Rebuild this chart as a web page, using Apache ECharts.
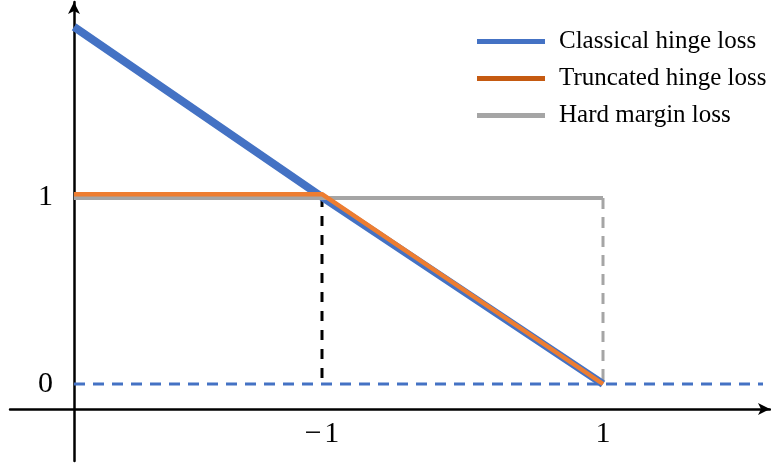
<!DOCTYPE html>
<html>
<head>
<meta charset="utf-8">
<script src="https://cdn.jsdelivr.net/npm/echarts@6/dist/echarts.min.js"></script>
<style>html,body{margin:0;padding:0;background:#fff}#c{width:771px;height:464px}</style>
</head>
<body>
<div id="c"></div>
<script>
// Tick labels
const xTickLabels = [-1, 1];
const yTickLabels = [0, 1];
// Series (x, loss) points
const seriesNames = ['Classical hinge loss', 'Truncated hinge loss', 'Hard margin loss'];
const classicalHinge = [[-2.765, 1.91], [-1, 1], [1, 0]];
const truncatedHinge = [[-2.765, 1.015], [-1, 1.015], [1, 0]];
const hardMargin = [[-2.765, 0.995], [1, 0.995]];
const hardMarginDrop = [[1, 0.995], [1, 0]];
const hingeDrop = [[-1, 1], [-1, 0]];
const zeroLevel = [[-2.765, 0], [2.139, 0]];

const font = 'Liberation Serif';
const chart = echarts.init(document.getElementById('c'), null, {renderer: 'canvas'});
chart.setOption({
  animation: false,
  backgroundColor: '#ffffff',
  grid: {left: 10, top: 2, width: 760, height: 459, containLabel: false},
  xAxis: {
    type: 'value', min: -3.2206, max: 2.1886,
    position: 'bottom', offset: -52,
    axisLine: {show: true, onZero: false, lineStyle: {color: '#000', width: 2.5}, symbol: ['none', 'arrow'], symbolSize: [9, 12]},
    axisTick: {show: false},
    splitLine: {show: false},
    axisLabel: {
      customValues: xTickLabels, margin: 10,
      fontFamily: font, fontSize: 30, color: '#000',
      formatter: v => (v < 0 ? '\u2212\u200A' + Math.abs(v) : String(v))
    }
  },
  yAxis: {
    type: 'value', min: -0.4118, max: 2.0428,
    position: 'left', offset: -64,
    axisLine: {show: true, onZero: false, lineStyle: {color: '#000', width: 2.5}, symbol: ['none', 'arrow'], symbolSize: [9, 12]},
    axisTick: {show: false},
    splitLine: {show: false},
    axisLabel: {
      customValues: yTickLabels, margin: 21,
      fontFamily: font, fontSize: 30, color: '#000'
    }
  },
  legend: {
    orient: 'vertical', left: 472, top: 24,
    icon: 'rect', itemWidth: 68, itemHeight: 5, itemGap: 12,
    textStyle: {fontFamily: font, fontSize: 25, color: '#000', lineHeight: 25, padding: [0, 0, 0, 9]},
    data: [
      {name: seriesNames[0], itemStyle: {color: '#4472C4'}},
      {name: seriesNames[1], itemStyle: {color: '#C55A11'}},
      {name: seriesNames[2], itemStyle: {color: '#A5A5A5'}}
    ]
  },
  series: [
    {type: 'line', name: 'zero', data: zeroLevel, symbol: 'none', silent: true,
     lineStyle: {color: '#4472C4', width: 3, type: [11, 8]}, z: 1},
    {type: 'line', name: 'drop1', data: hingeDrop, symbol: 'none', silent: true,
     lineStyle: {color: '#000', width: 3, type: [10, 9]}, z: 1},
    {type: 'line', name: 'drop2', data: hardMarginDrop, symbol: 'none', silent: true,
     lineStyle: {color: '#A5A5A5', width: 3, type: [11, 8]}, z: 1},
    {type: 'line', name: seriesNames[0], data: classicalHinge, symbol: 'none',
     color: '#4472C4', lineStyle: {color: '#4472C4', width: 8}, z: 2},
    {type: 'line', name: seriesNames[2], data: hardMargin, symbol: 'none',
     color: '#A5A5A5', lineStyle: {color: '#A5A5A5', width: 4}, z: 3},
    {type: 'line', name: seriesNames[1], data: truncatedHinge, symbol: 'none',
     color: '#ED7D31', lineStyle: {color: '#ED7D31', width: 4.5}, z: 4}
  ]
});
</script>
</body>
</html>
